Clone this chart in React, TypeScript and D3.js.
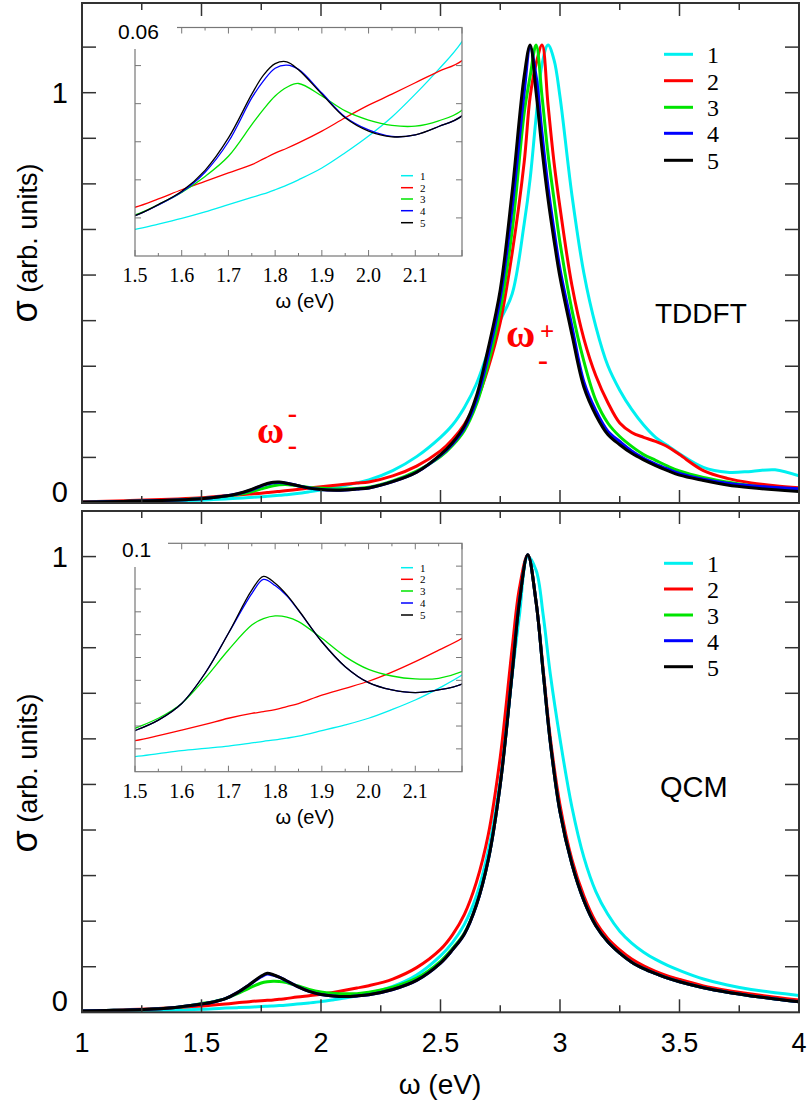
import React from "react";
import * as d3 from "d3";

// ---------- DATA ----------
const seriesNames = ["1", "2", "3", "4", "5"];
const seriesColors = ["#00f0f0", "#ff0000", "#00e400", "#0000ff", "#000000"];

// TDDFT panel (top)
const omegaT = [1.0,1.1,1.2,1.3,1.4,1.5,1.55,1.6,1.65,1.7,1.75,1.775,1.8,1.825,1.85,1.9,1.95,2.0,2.05,2.1,2.15,2.2,2.3,2.4,2.5,2.55,2.6,2.65,2.7,2.75,2.8,2.85,2.875,2.9,2.925,2.95,2.975,3.0,3.05,3.1,3.15,3.2,3.25,3.3,3.35,3.4,3.45,3.5,3.6,3.7,3.8,3.9,4.0];
const tddft1 = [.002,.003,.0035,.0045,.0055,.007,.0084,.0099,.0116,.0135,.0154,.0163,.0174,.0186,.020,.0231,.0271,.0315,.0365,.0425,.049,.0563,.079,.113,.16,.19,.233,.29,.37,.445,.51,.68,.79,.94,1.07,1.116,1.08,.99,.75,.56,.43,.335,.275,.228,.19,.16,.14,.12,.087,.075,.077,.081,.066];
const tddft2 = [.003,.0045,.006,.0078,.010,.0128,.015,.0174,.0196,.0218,.024,.0255,.027,.0283,.0297,.0328,.0363,.0396,.0425,.0455,.0485,.0513,.066,.09,.127,.155,.192,.247,.33,.44,.61,.83,.99,1.07,1.116,.97,.83,.72,.53,.40,.31,.245,.195,.172,.16,.15,.137,.118,.079,.06,.049,.042,.037];
const tddft3 = [.002,.003,.004,.0055,.0075,.0108,.0135,.0167,.0209,.0262,.0345,.0385,.042,.0443,.0453,.042,.0381,.0357,.0343,.0341,.0355,.0383,.054,.078,.113,.14,.177,.24,.34,.47,.665,.95,1.04,1.116,.99,.85,.74,.635,.47,.345,.25,.195,.162,.138,.118,.104,.09,.078,.062,.051,.042,.035,.03];
const tddft4 = [.002,.003,.004,.0055,.0075,.0106,.0134,.0168,.022,.030,.0415,.046,.0493,.0501,.049,.0428,.0365,.0331,.0314,.0318,.034,.0368,.052,.075,.116,.144,.183,.25,.36,.50,.72,1.0,1.11,1.04,.9,.77,.665,.57,.43,.295,.225,.175,.15,.127,.109,.095,.083,.072,.058,.048,.042,.038,.035];
const tddft5 = [.002,.003,.004,.0055,.0075,.0106,.0135,.017,.0225,.031,.0425,.0475,.0505,.051,.0489,.0425,.0363,.0328,.0313,.0318,.034,.0368,.052,.075,.118,.147,.188,.26,.378,.52,.76,1.04,1.116,1.0,.86,.74,.64,.55,.41,.282,.214,.167,.142,.121,.105,.091,.079,.068,.055,.044,.037,.032,.028];

// QCM panel (bottom)
const omegaQ = [1.0,1.1,1.2,1.3,1.4,1.5,1.55,1.6,1.65,1.7,1.75,1.775,1.8,1.825,1.85,1.9,1.95,2.0,2.05,2.1,2.15,2.2,2.3,2.4,2.5,2.55,2.6,2.65,2.7,2.75,2.8,2.83,2.865,2.9,2.93,2.96,3.0,3.05,3.1,3.15,3.2,3.25,3.3,3.35,3.4,3.45,3.5,3.6,3.7,3.8,3.9,4.0];
const qcm1 = [.002,.0025,.003,.004,.005,.0066,.0079,.0092,.0102,.0112,.0126,.0133,.0139,.0147,.0156,.018,.0205,.0234,.0272,.0314,.0365,.0423,.057,.082,.124,.153,.193,.255,.355,.51,.74,.87,1.0,.97,.87,.74,.6,.45,.34,.265,.215,.178,.152,.132,.116,.103,.092,.073,.06,.05,.043,.037];
const qcm2 = [.003,.004,.006,.008,.0105,.0136,.0158,.0182,.0207,.0234,.0255,.0263,.0272,.0285,.0298,.0335,.0365,.0396,.0436,.0482,.0532,.0584,.073,.098,.138,.17,.215,.285,.39,.56,.8,.93,1.004,.9,.75,.6,.455,.335,.255,.198,.162,.137,.117,.102,.09,.08,.072,.058,.048,.04,.033,.027];
const qcm3 = [.003,.004,.005,.007,.011,.019,.0234,.0299,.0409,.0533,.0642,.067,.0682,.0677,.0657,.0584,.0504,.0448,.0419,.0406,.0409,.0438,.055,.075,.112,.14,.174,.236,.335,.5,.745,.9,1.004,.9,.744,.59,.44,.325,.245,.19,.155,.13,.11,.096,.085,.075,.067,.054,.044,.036,.029,.023];
const qcm4 = [.003,.004,.005,.007,.011,.018,.0226,.0299,.0431,.0606,.078,.0842,.0815,.077,.0706,.0569,.046,.039,.0358,.0346,.0358,.0384,.05,.07,.108,.137,.172,.235,.335,.5,.745,.9,1.004,.9,.744,.59,.44,.325,.245,.19,.155,.13,.11,.096,.085,.075,.067,.054,.044,.036,.029,.023];
const qcm5 = [.003,.004,.005,.007,.011,.018,.0226,.0299,.0431,.0606,.0795,.0855,.0825,.0774,.0708,.0569,.046,.039,.0358,.0346,.0358,.0384,.05,.07,.108,.137,.172,.235,.335,.5,.745,.9,1.004,.9,.744,.59,.44,.325,.245,.19,.155,.13,.11,.096,.085,.075,.067,.054,.044,.036,.029,.023];

const xTickLabels = ["1", "1.5", "2", "2.5", "3", "3.5", "4"];
const xTickValues = [1, 1.5, 2, 2.5, 3, 3.5, 4];
const insetXTickValues = [1.5, 1.6, 1.7, 1.8, 1.9, 2.0, 2.1];
const insetXTickLabels = ["1.5", "1.6", "1.7", "1.8", "1.9", "2.0", "2.1"];

const SANS = "'Liberation Sans', Arial, Helvetica, sans-serif";
const SERIF = "'Liberation Serif', 'Times New Roman', Times, serif";

type PanelCfg = {
  id: string;
  omega: number[];
  series: number[][];
  top: number;
  bottom: number;
  yMax: number;
  yTicks: number[];
  insetTop: number;
  insetBottom: number;
  insetYMax: number;
  insetYTicks: number[];
  insetLabel: string;
  insetLabelBox: [number, number, number, number];
  insetLabelPos: [number, number];
  insetLegendRows: number[];
  legendRows: number[];
  legendBaseOff: number;
  tag: string;
  tagPos: [number, number];
  tagSize: number;
  yTitleCenter: number;
};

const LEFT = 82;
const RIGHT = 799;
const IN_L = 135;
const IN_R = 462;

function Panel({ cfg }: { cfg: PanelCfg }) {
  const x = d3.scaleLinear().domain([1, 4]).range([LEFT, RIGHT]);
  const y = d3.scaleLinear().domain([0, cfg.yMax]).range([cfg.bottom, cfg.top]);
  const xi = d3.scaleLinear().domain([1.5, 2.2]).range([IN_L, IN_R]);
  const yi = d3.scaleLinear().domain([0, cfg.insetYMax]).range([cfg.insetBottom, cfg.insetTop]);

  const line = d3
    .line<number>()
    .x((_, i) => x(cfg.omega[i]))
    .y((d) => y(d))
    .curve(d3.curveCatmullRom.alpha(0.5));
  const lineInset = d3
    .line<number>()
    .x((_, i) => xi(cfg.omega[i]))
    .y((d) => yi(d))
    .curve(d3.curveCatmullRom.alpha(0.5));

  const xMinor = d3.range(0, 13).map((k) => 1 + k * 0.25);
  const inXT = d3.range(0, 15).map((k) => 1.5 + k * 0.05);

  return (
    <g>
      <defs>
        <clipPath id={`clip-${cfg.id}`}>
          <rect x={LEFT} y={cfg.top} width={RIGHT - LEFT} height={cfg.bottom - cfg.top} />
        </clipPath>
        <clipPath id={`clipi-${cfg.id}`}>
          <rect x={IN_L} y={cfg.insetTop} width={IN_R - IN_L} height={cfg.insetBottom - cfg.insetTop} />
        </clipPath>
      </defs>

      {/* main curves */}
      <g clipPath={`url(#clip-${cfg.id})`}>
        {cfg.series.map((s, k) => (
          <path key={k} d={line(s) || ""} fill="none" stroke={seriesColors[k]} strokeWidth={3} strokeLinejoin="round" />
        ))}
      </g>

      {/* main ticks */}
      {xMinor.map((v, k) => {
        const major = Math.abs(v * 2 - Math.round(v * 2)) < 1e-6;
        const len = major ? 13 : 7;
        return (
          <g key={"xt" + k} stroke="#333" strokeWidth={1.5}>
            <line x1={x(v)} x2={x(v)} y1={cfg.bottom} y2={cfg.bottom - len} />
            <line x1={x(v)} x2={x(v)} y1={cfg.top} y2={cfg.top + len} />
          </g>
        );
      })}
      {cfg.yTicks.map((v, k) => (
        <g key={"yt" + k} stroke="#333" strokeWidth={1.5}>
          <line x1={LEFT} x2={LEFT + 14} y1={y(v)} y2={y(v)} />
          <line x1={RIGHT} x2={RIGHT - 14} y1={y(v)} y2={y(v)} />
        </g>
      ))}
      <rect x={LEFT} y={cfg.top} width={RIGHT - LEFT} height={cfg.bottom - cfg.top} fill="none" stroke="#333" strokeWidth={2} />

      {/* y labels */}
      <text x={68} y={y(1) + 10} textAnchor="end" fontFamily={SANS} fontSize={29} fill="#000">1</text>
      <text x={68} y={y(0) - 1} textAnchor="end" fontFamily={SANS} fontSize={29} fill="#000">0</text>
      <text transform={`translate(37,${cfg.yTitleCenter}) rotate(-90)`} textAnchor="middle" fontFamily={SANS} fontSize={27} fill="#000">
        <tspan fontSize={36}>σ</tspan>
        <tspan> (arb. units)</tspan>
      </text>

      {/* legend */}
      {seriesNames.map((n, k) => (
        <g key={"lg" + k}>
          <line x1={664} x2={693} y1={cfg.legendRows[k]} y2={cfg.legendRows[k]} stroke={seriesColors[k]} strokeWidth={3} />
          <text x={707} y={cfg.legendRows[k] + cfg.legendBaseOff} fontFamily={SERIF} fontSize={24} fill="#000">{n}</text>
        </g>
      ))}

      {/* tag */}
      <text x={cfg.tagPos[0]} y={cfg.tagPos[1]} fontFamily={SANS} fontSize={cfg.tagSize} fill="#000">{cfg.tag}</text>

      {/* inset */}
      <rect x={IN_L} y={cfg.insetTop} width={IN_R - IN_L} height={cfg.insetBottom - cfg.insetTop} fill="#fff" />
      <g clipPath={`url(#clipi-${cfg.id})`}>
        {cfg.series.map((s, k) => (
          <path key={k} d={lineInset(s) || ""} fill="none" stroke={seriesColors[k]} strokeWidth={1.3} />
        ))}
      </g>
      {inXT.map((v, k) => {
        const major = k % 2 === 0;
        const len = major ? 6 : 3;
        return (
          <g key={"ixt" + k} stroke="#777" strokeWidth={1}>
            <line x1={xi(v)} x2={xi(v)} y1={cfg.insetBottom} y2={cfg.insetBottom - len} />
            <line x1={xi(v)} x2={xi(v)} y1={cfg.insetTop} y2={cfg.insetTop + len} />
          </g>
        );
      })}
      {cfg.insetYTicks.map((v, k) => (
        <g key={"iyt" + k} stroke="#777" strokeWidth={1}>
          <line x1={IN_L} x2={IN_L + 6} y1={yi(v)} y2={yi(v)} />
          <line x1={IN_R} x2={IN_R - 6} y1={yi(v)} y2={yi(v)} />
        </g>
      ))}
      <rect x={IN_L} y={cfg.insetTop} width={IN_R - IN_L} height={cfg.insetBottom - cfg.insetTop} fill="none" stroke="#777" strokeWidth={1.2} />
      <rect x={cfg.insetLabelBox[0]} y={cfg.insetLabelBox[1]} width={cfg.insetLabelBox[2]} height={cfg.insetLabelBox[3]} fill="#fff" />
      <text x={cfg.insetLabelPos[0]} y={cfg.insetLabelPos[1]} fontFamily={SANS} fontSize={21} fill="#000">{cfg.insetLabel}</text>
      {insetXTickValues.map((v, k) => (
        <text key={"ixl" + k} x={xi(v)} y={cfg.insetBottom + 26} textAnchor="middle" fontFamily={SERIF} fontSize={20} fill="#000">
          {insetXTickLabels[k]}
        </text>
      ))}
      <text x={305} y={cfg.insetBottom + 52} textAnchor="middle" fontFamily={SANS} fontSize={20} fill="#000">ω (eV)</text>
      {seriesNames.map((n, k) => (
        <g key={"ilg" + k}>
          <line x1={401} x2={413} y1={cfg.insetLegendRows[k]} y2={cfg.insetLegendRows[k]} stroke={seriesColors[k]} strokeWidth={1.5} />
          <text x={420} y={cfg.insetLegendRows[k] + 4} fontFamily={SERIF} fontSize={11} fill="#000">{n}</text>
        </g>
      ))}
    </g>
  );
}

export default function App() {
  const top: PanelCfg = {
    id: "T",
    omega: omegaT,
    series: [tddft1, tddft2, tddft3, tddft4, tddft5],
    top: 3,
    bottom: 503,
    yMax: 500 / 410.3,
    yTicks: d3.range(1, 11).map((k) => k / 9),
    insetTop: 27.5,
    insetBottom: 256,
    insetYMax: 0.06,
    insetYTicks: d3.range(1, 6).map((k) => k * 0.01),
    insetLabel: "0.06",
    insetLabelBox: [106, 14, 71, 35],
    insetLabelPos: [118, 39],
    insetLegendRows: [175.7, 187.7, 199, 210.7, 222.7],
    legendRows: [54.3, 80.7, 107.3, 133.3, 160.3],
    legendBaseOff: 9,
    tag: "TDDFT",
    tagPos: [655, 323],
    tagSize: 28,
    yTitleCenter: 243,
  };
  const bottom: PanelCfg = {
    id: "Q",
    omega: omegaQ,
    series: [qcm1, qcm2, qcm3, qcm4, qcm5],
    top: 511,
    bottom: 1012.3,
    yMax: 1.1,
    yTicks: d3.range(1, 11).map((k) => k / 10),
    insetTop: 543.3,
    insetBottom: 771.7,
    insetYMax: 0.1,
    insetYTicks: d3.range(1, 10).map((k) => k * 0.01),
    insetLabel: "0.1",
    insetLabelBox: [111, 528, 57, 39],
    insetLabelPos: [122, 557],
    insetLegendRows: [567.7, 579.3, 591, 603, 615],
    legendRows: [563.3, 589, 615, 640.7, 666.7],
    legendBaseOff: 9,
    tag: "QCM",
    tagPos: [660, 797],
    tagSize: 29,
    yTitleCenter: 773,
  };
  const x = d3.scaleLinear().domain([1, 4]).range([LEFT, RIGHT]);

  return (
    <svg width={812} height={1107} style={{ position: "absolute", left: 0, top: 0, background: "#fff" }}>
      <rect x={0} y={0} width={812} height={1107} fill="#fff" />
      <Panel cfg={top} />
      <Panel cfg={bottom} />

      {/* omega labels */}
      <g fill="#ff0000" fontFamily={SERIF} fontWeight="bold">
        <text x={506} y={347} fontSize={40}>ω</text>
        <text x={547} y={340} fontSize={25} textAnchor="middle">+</text>
        <text x={543} y={370} fontSize={30} textAnchor="middle">-</text>
        <text x={257} y={443} fontSize={37}>ω</text>
        <text x={292.5} y={422} fontSize={28} textAnchor="middle">-</text>
        <text x={292.5} y={454} fontSize={28} textAnchor="middle">-</text>
      </g>

      {/* bottom x axis */}
      {xTickValues.map((v, k) => (
        <text key={"xl" + k} x={x(v)} y={1052} textAnchor="middle" fontFamily={SANS} fontSize={27} fill="#000">
          {xTickLabels[k]}
        </text>
      ))}
      <text x={440} y={1094} textAnchor="middle" fontFamily={SANS} fontSize={28} fill="#000">ω (eV)</text>
    </svg>
  );
}
